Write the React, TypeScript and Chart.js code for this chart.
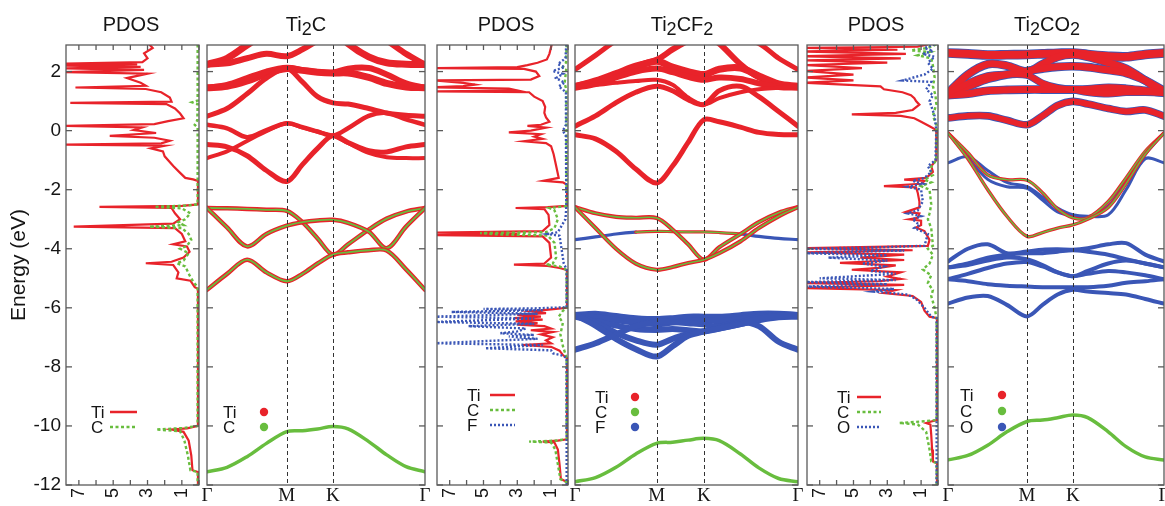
import React, { useEffect, useRef } from 'react';
import { Chart, registerables } from 'chart.js';

Chart.register(...registerables);

// ======================= DATA =======================
const E_MIN = -12;
const E_MAX = 2.9;
const ENERGY_TICKS = [-12, -10, -8, -6, -4, -2, 0, 2];
const DOS_MAX = 7.75;
const DOS_MINOR_TICKS = [0, 1, 2, 3, 4, 5, 6, 7];
const DOS_LABEL_TICKS = [1, 3, 5, 7];
const K_MAX = 1.577;
const K_LABEL_POS = [0, 0.577, 0.911, 1.577];
const K_LABELS = ['Γ', 'M', 'K', 'Γ'];
const K_DASHED = [0.577, 0.911];
// k-path sample points (Γ → M → K → Γ)
const K_PATH = [0, 0.145, 0.29, 0.43, 0.577, 0.69, 0.8, 0.911, 1.02, 1.17, 1.3, 1.44, 1.577];

const TITLES = ['PDOS', 'Ti2C', 'PDOS', 'Ti2CF2', 'PDOS', 'Ti2CO2'];

// ---- Ti2C bands ----
const TI2C_TI_BANDS = [
  [2.24, 2.45, 2.9, 3.3, 3.5, 3.6, 3.6, 3.5, 2.95, 2.5, 2.3, 2.25, 2.24],
  [2.24, 2.28, 2.45, 2.6, 2.52, 2.75, 3.05, 3.3, 3.5, 3.4, 3.05, 2.6, 2.24],
  [1.45, 1.5, 1.68, 1.93, 2.1, 2.04, 1.98, 1.95, 1.95, 1.8, 1.6, 1.48, 1.45],
  [1.45, 1.55, 1.78, 2.0, 2.13, 2.05, 1.99, 1.96, 2.1, 2.12, 1.9, 1.6, 1.45],
  [0.49, 0.75, 1.25, 1.78, 2.1, 1.65, 1.15, 0.94, 0.9, 0.75, 0.6, 0.52, 0.49],
  [0.2, 0.08, -0.22, 0.02, 0.25, 0.12, -0.03, -0.17, 0.08, 0.5, 0.6, 0.38, 0.2],
  [-0.47, -0.55, -0.85, -1.35, -1.72, -1.15, -0.6, -0.17, -0.4, -0.68, -0.72, -0.55, -0.47],
  [-0.93, -0.7, -0.35, -0.02, 0.25, 0.1, -0.04, -0.17, -0.42, -0.75, -0.9, -0.93, -0.93],
];
const TI2C_MIX_BANDS = [
  [-2.62, -2.63, -2.65, -2.68, -2.72, -3.1, -3.65, -4.2, -3.85, -3.35, -2.98, -2.74, -2.62],
  [-2.62, -3.28, -3.92, -3.5, -3.22, -3.1, -3.04, -3.02, -3.12, -3.42, -3.98, -3.25, -2.62],
  [-5.39, -4.85, -4.37, -4.8, -5.1, -4.85, -4.5, -4.2, -4.12, -4.05, -4.06, -4.7, -5.39],
];
const TI2C_C_BAND = [-11.55, -11.4, -11.04, -10.59, -10.19, -10.16, -10.1, -10.02, -10.1, -10.53, -10.98, -11.38, -11.55];

// ---- Ti2CF2 bands ----
const TI2CF2_TI_BANDS = [
  [2.07, 2.55, 3.05, 3.4, 3.6, 3.7, 3.6, 3.4, 3.2, 3.1, 2.95, 2.45, 2.07],
  [1.5, 1.7, 1.95, 2.2, 2.4, 2.75, 3.05, 3.3, 2.95, 2.25, 1.8, 1.55, 1.5],
  [1.5, 1.65, 1.9, 2.15, 2.35, 2.15, 2.0, 1.9, 2.08, 2.12, 1.85, 1.58, 1.5],
  [1.45, 1.58, 1.8, 2.0, 2.1, 1.98, 1.82, 1.72, 1.8, 1.75, 1.6, 1.48, 1.45],
  [1.5, 1.55, 1.62, 1.68, 1.72, 1.55, 1.12, 0.88, 1.1, 1.3, 1.4, 1.45, 1.5],
  [0.15, 0.5, 0.95, 1.3, 1.5, 1.35, 1.05, 0.88, 1.35, 1.5, 1.15, 0.65, 0.15],
  [-0.14, -0.28, -0.7, -1.3, -1.77, -1.2, -0.4, 0.37, 0.3, 0.12, -0.06, -0.13, -0.14],
];
const TI2CF2_MIX_BANDS = [
  [-2.59, -2.8, -2.92, -2.95, -2.96, -3.35, -3.85, -4.37, -3.95, -3.5, -3.1, -2.78, -2.59],
  [-2.59, -3.3, -4.0, -4.5, -4.71, -4.62, -4.48, -4.37, -4.15, -3.75, -3.3, -2.9, -2.59],
];
const TI2CF2_EDGE_BAND = [-3.69, -3.6, -3.5, -3.44, -3.41, -3.42, -3.43, -3.43, -3.45, -3.5, -3.58, -3.65, -3.69];
const TI2CF2_F_BANDS = [
  [-6.24, -6.2, -6.28, -6.35, -6.38, -6.35, -6.3, -6.3, -6.3, -6.25, -6.2, -6.2, -6.24],
  [-6.24, -6.32, -6.42, -6.5, -6.55, -6.5, -6.45, -6.42, -6.45, -6.38, -6.28, -6.22, -6.24],
  [-6.3, -6.45, -6.6, -6.72, -6.75, -6.72, -6.76, -6.8, -6.7, -6.55, -6.42, -6.32, -6.3],
  [-6.24, -6.5, -6.85, -7.1, -7.25, -7.05, -6.88, -6.8, -6.65, -6.48, -6.62, -7.15, -7.42],
  [-7.42, -7.2, -6.9, -6.62, -6.48, -6.48, -6.52, -6.56, -6.65, -6.5, -6.32, -6.25, -6.24],
  [-6.24, -6.6, -7.05, -7.4, -7.65, -7.3, -6.95, -6.8, -6.7, -6.55, -6.38, -6.28, -6.24],
];
const TI2CF2_C_BAND = [-11.89, -11.75, -11.4, -10.95, -10.59, -10.55, -10.48, -10.42, -10.5, -10.95, -11.42, -11.78, -11.89];

// ---- Ti2CO2 bands ----
const TI2CO2_TI_BANDS = [
  [2.63, 2.6, 2.56, 2.57, 2.58, 2.6, 2.62, 2.63, 2.58, 2.52, 2.5, 2.58, 2.63],
  [1.28, 1.9, 2.25, 2.2, 2.0, 2.25, 2.5, 2.58, 2.5, 2.3, 2.1, 1.7, 1.28],
  [1.28, 1.5, 1.75, 1.9, 2.02, 2.1, 2.16, 2.18, 2.15, 2.05, 1.95, 1.7, 1.35],
  [1.2, 1.25, 1.35, 1.38, 1.39, 1.39, 1.39, 1.39, 1.4, 1.45, 1.42, 1.35, 1.28],
  [1.28, 1.6, 1.85, 1.9, 1.88, 1.6, 1.45, 1.39, 1.3, 1.25, 1.3, 1.3, 1.28],
  [0.43, 0.5, 0.5, 0.35, 0.2, 0.5, 0.85, 0.99, 0.9, 0.75, 0.65, 0.7, 0.49],
];
const TI2CO2_MIX_BANDS = [
  [-0.08, -0.75, -1.5, -1.66, -1.68, -2.1, -2.65, -2.95, -2.95, -2.4, -1.6, -0.7, -0.08],
  [-0.08, -0.95, -2.0, -2.9, -3.58, -3.45, -3.3, -3.19, -3.0, -2.6, -1.8, -0.8, -0.08],
];
const TI2CO2_O_THIN_BANDS = [
  [-1.09, -0.88, -1.35, -1.75, -1.9, -2.25, -2.62, -2.85, -2.9, -2.85, -2.0, -0.95, -1.09],
  [-0.08, -0.9, -1.65, -1.9, -1.95, -2.35, -2.75, -2.88, -2.92, -2.55, -1.7, -0.8, -0.08],
];
const TI2CO2_O_BANDS = [
  [-4.43, -4.0, -3.85, -4.15, -4.09, -4.03, -4.02, -4.03, -3.98, -3.85, -3.81, -4.2, -4.43],
  [-4.63, -4.5, -4.3, -4.2, -4.15, -4.15, -4.1, -4.05, -4.1, -4.2, -4.35, -4.5, -4.63],
  [-4.63, -4.55, -4.4, -4.3, -4.35, -4.55, -4.8, -4.93, -4.75, -4.5, -4.4, -4.5, -4.63],
  [-5.03, -4.85, -4.65, -4.5, -4.45, -4.6, -4.8, -4.93, -4.85, -4.75, -4.8, -4.9, -5.03],
  [-5.03, -5.1, -5.2, -5.25, -5.28, -5.3, -5.3, -5.3, -5.3, -5.25, -5.15, -5.1, -5.03],
  [-5.86, -5.65, -5.6, -5.9, -6.29, -5.9, -5.55, -5.39, -5.45, -5.5, -5.55, -5.7, -5.86],
];
const TI2CO2_C_BAND = [-11.15, -11.0, -10.65, -10.2, -9.85, -9.8, -9.72, -9.63, -9.72, -10.2, -10.7, -11.05, -11.15];

// ---- PDOS curves: [energy (eV), states] ----
const TI2C_DOS_TI = [
  [2.92, 2.9], [2.8, 2.7], [2.62, 3.2], [2.45, 3.0], [2.32, 3.3], [2.27, 7.9], [2.24, 3.6], [2.2, 7.9], [2.16, 3.4],
  [2.11, 7.9], [2.06, 3.2], [1.98, 7.9], [1.93, 3.0], [1.78, 4.2], [1.62, 3.4], [1.52, 3.1], [1.46, 7.2], [1.41, 3.1],
  [1.3, 2.2], [1.12, 1.7], [0.98, 1.6], [0.94, 7.5], [0.9, 1.9], [0.75, 1.4], [0.58, 1.1], [0.42, 0.9], [0.32, 1.8],
  [0.22, 2.6], [0.16, 7.9], [0.11, 3.3], [0.02, 3.8], [-0.08, 2.5], [-0.18, 5.2], [-0.24, 2.6], [-0.34, 1.7],
  [-0.43, 2.2], [-0.47, 7.9], [-0.51, 2.0], [-0.6, 2.8], [-0.7, 2.1], [-0.87, 2.0], [-1.2, 1.5], [-1.43, 1.1],
  [-1.6, 0.8], [-1.65, 0.35], [-1.7, 0.06], [-2.5, 0.06], [-2.55, 1.0], [-2.58, 5.8], [-2.62, 1.6], [-2.8, 1.4],
  [-3.0, 1.1], [-3.15, 1.5], [-3.25, 7.3], [-3.3, 1.4], [-3.5, 1.0], [-3.75, 0.8], [-3.85, 1.5], [-3.92, 0.7],
  [-4.1, 0.55], [-4.3, 0.9], [-4.44, 1.6], [-4.49, 3.1], [-4.55, 1.5], [-4.8, 1.2], [-5.0, 1.3], [-5.08, 0.5],
  [-5.3, 0.25], [-5.35, 0.06], [-10.0, 0.06], [-10.08, 0.7], [-10.12, 1.6], [-10.2, 0.9], [-10.5, 0.6],
  [-11.0, 0.45], [-11.5, 0.38], [-11.56, 0.06], [-12, 0.06],
];
const TI2C_DOS_C = [
  [2.92, 0.08], [1.02, 0.08], [0.96, 0.4], [0.9, 0.08], [0.35, 0.1], [0.2, 0.25], [0.1, 0.08], [-2.5, 0.08],
  [-2.54, 0.8], [-2.58, 2.6], [-2.63, 1.0], [-2.8, 0.5], [-3.0, 0.8], [-3.1, 1.2], [-3.2, 0.9], [-3.25, 2.9],
  [-3.3, 1.0], [-3.5, 0.6], [-3.7, 0.45], [-3.9, 0.7], [-4.0, 1.1], [-4.15, 0.6], [-4.4, 0.9], [-4.49, 1.3],
  [-4.6, 0.8], [-4.9, 0.55], [-5.1, 0.35], [-5.3, 0.08], [-10.0, 0.08], [-10.07, 0.9], [-10.12, 2.5],
  [-10.18, 1.1], [-10.5, 0.85], [-11.0, 0.65], [-11.5, 0.5], [-11.56, 0.08], [-12, 0.08],
];
const TI2CF2_DOS_TI = [
  [2.92, 0.96], [2.6, 1.1], [2.41, 1.25], [2.3, 1.8], [2.22, 2.4], [2.15, 3.0], [2.12, 7.9], [2.09, 2.6], [2.0, 1.9],
  [1.85, 1.7], [1.73, 2.2], [1.7, 7.9], [1.62, 6.2], [1.56, 5.5], [1.51, 6.2], [1.47, 7.9], [1.42, 3.5], [1.36, 3.0],
  [1.33, 7.9], [1.3, 2.3], [1.15, 2.0], [1.0, 1.5], [0.8, 1.35], [0.6, 1.4], [0.45, 1.3], [0.3, 1.1], [0.2, 1.6],
  [0.16, 2.4], [0.1, 1.3], [0.0, 2.2], [-0.06, 3.5], [-0.12, 1.6], [-0.2, 2.0], [-0.28, 1.5], [-0.36, 2.6],
  [-0.42, 1.3], [-0.53, 1.0], [-0.8, 0.85], [-1.2, 0.7], [-1.6, 0.55], [-1.7, 1.45], [-1.75, 0.3], [-1.83, 0.06],
  [-2.55, 0.06], [-2.59, 1.2], [-2.62, 3.1], [-2.66, 1.4], [-2.85, 1.15], [-3.2, 1.1], [-3.4, 1.5], [-3.45, 7.9],
  [-3.5, 3.0], [-3.54, 7.9], [-3.58, 1.5], [-3.8, 1.1], [-4.3, 1.0], [-4.5, 1.4], [-4.54, 3.2], [-4.58, 1.2],
  [-4.65, 0.5], [-4.72, 0.06], [-6.0, 0.06], [-6.05, 1.0], [-6.12, 2.2], [-6.18, 1.3], [-6.24, 3.0], [-6.3, 1.6],
  [-6.35, 3.2], [-6.4, 1.5], [-6.46, 3.1], [-6.52, 1.8], [-6.57, 3.0], [-6.62, 1.4], [-6.7, 1.0], [-6.76, 2.2],
  [-6.82, 0.9], [-6.9, 1.6], [-7.0, 0.9], [-7.1, 1.3], [-7.2, 1.0], [-7.26, 2.7], [-7.32, 1.0], [-7.45, 0.5],
  [-7.6, 0.3], [-7.7, 0.06], [-10.45, 0.06], [-10.5, 0.6], [-10.53, 1.5], [-10.56, 0.8], [-10.8, 0.6],
  [-11.3, 0.5], [-11.8, 0.42], [-11.9, 0.06], [-12, 0.06],
];
const TI2CF2_DOS_C = [
  [2.92, 0.08], [2.3, 0.12], [2.15, 0.3], [2.1, 0.1], [1.6, 0.2], [1.4, 0.1], [-2.55, 0.08], [-2.59, 0.6],
  [-2.62, 1.1], [-2.7, 0.8], [-3.0, 0.6], [-3.3, 0.8], [-3.44, 1.3], [-3.47, 5.2], [-3.51, 4.2], [-3.55, 1.2],
  [-3.8, 0.8], [-4.3, 0.7], [-4.5, 0.9], [-4.54, 1.3], [-4.6, 0.5], [-4.72, 0.08], [-6.0, 0.08], [-6.1, 0.3],
  [-6.3, 0.55], [-6.5, 0.3], [-6.9, 0.45], [-7.3, 0.3], [-7.7, 0.08], [-10.45, 0.08], [-10.5, 0.8],
  [-10.53, 2.3], [-10.56, 1.0], [-10.8, 0.75], [-11.3, 0.6], [-11.8, 0.45], [-11.9, 0.08], [-12, 0.08],
];
const TI2CF2_DOS_F = [
  [2.92, 0.1], [2.45, 0.15], [2.25, 0.6], [2.15, 0.2], [2.02, 0.9], [1.92, 0.3], [1.78, 0.7], [1.62, 0.2],
  [1.5, 0.55], [1.3, 0.12], [0.2, 0.12], [0.0, 0.3], [-0.2, 0.12], [-2.6, 0.1], [-3.0, 0.15], [-3.44, 0.6],
  [-3.5, 1.2], [-3.56, 0.5], [-4.5, 0.25], [-4.7, 0.08], [-5.98, 0.08], [-6.02, 2.0], [-6.04, 5.0], [-6.08, 1.5],
  [-6.14, 6.9], [-6.2, 1.8], [-6.3, 7.9], [-6.36, 2.0], [-6.48, 7.9], [-6.54, 2.0], [-6.62, 5.9], [-6.7, 2.5],
  [-6.8, 3.0], [-6.86, 4.0], [-6.92, 2.0], [-6.97, 3.5], [-7.05, 1.8], [-7.2, 7.9], [-7.26, 1.5], [-7.37, 4.9],
  [-7.44, 1.0], [-7.54, 0.9], [-7.62, 0.3], [-7.7, 0.08], [-12, 0.08],
];
const TI2CO2_DOS_TI = [
  [2.92, 0.6], [2.84, 1.2], [2.8, 7.9], [2.74, 2.4], [2.68, 7.9], [2.6, 1.9], [2.52, 7.9], [2.45, 2.2], [2.38, 7.9],
  [2.3, 3.0], [2.22, 7.9], [2.12, 4.5], [2.02, 7.9], [1.9, 5.0], [1.8, 7.9], [1.7, 5.0], [1.62, 7.9], [1.5, 3.4],
  [1.4, 3.2], [1.3, 2.1], [1.2, 1.6], [1.1, 1.4], [1.0, 1.3], [0.88, 1.1], [0.7, 1.5], [0.6, 2.5], [0.55, 5.1],
  [0.5, 2.2], [0.42, 1.4], [0.3, 1.0], [0.15, 0.5], [0.05, 0.2], [-0.05, 0.06], [-1.0, 0.1], [-1.2, 0.4],
  [-1.4, 0.3], [-1.6, 0.7], [-1.66, 2.0], [-1.7, 0.8], [-1.8, 1.0], [-1.88, 3.2], [-1.92, 1.3], [-2.1, 1.2],
  [-2.4, 1.1], [-2.6, 1.1], [-2.75, 1.9], [-2.8, 1.1], [-2.95, 1.2], [-3.0, 1.7], [-3.05, 1.0], [-3.2, 1.0],
  [-3.28, 1.3], [-3.4, 0.8], [-3.7, 0.5], [-3.9, 0.6], [-3.98, 7.9], [-4.05, 1.5], [-4.12, 7.9], [-4.2, 2.0],
  [-4.3, 4.6], [-4.38, 2.0], [-4.48, 5.8], [-4.56, 2.5], [-4.65, 3.5], [-4.71, 5.1], [-4.8, 2.2], [-4.94, 3.0],
  [-5.02, 2.2], [-5.1, 3.5], [-5.16, 7.9], [-5.22, 2.0], [-5.33, 7.9], [-5.4, 2.5], [-5.5, 3.2], [-5.6, 1.5],
  [-5.8, 1.0], [-6.1, 0.8], [-6.3, 0.5], [-6.35, 0.06], [-9.8, 0.06], [-9.85, 0.4], [-9.9, 0.7], [-9.95, 0.45],
  [-10.3, 0.4], [-10.8, 0.35], [-11.2, 0.3], [-11.25, 0.06], [-12, 0.06],
];
const TI2CO2_DOS_C = [
  [2.92, 0.1], [2.8, 0.6], [2.72, 1.6], [2.66, 0.5], [2.55, 1.2], [2.45, 0.4], [2.2, 0.3], [1.8, 0.2], [1.5, 0.3],
  [1.2, 0.15], [0.9, 0.1], [0.5, 0.3], [0.2, 0.1], [-0.05, 0.08], [-1.0, 0.1], [-1.3, 0.5], [-1.5, 0.3],
  [-1.66, 0.8], [-1.75, 0.4], [-1.88, 1.0], [-2.0, 0.5], [-2.5, 0.4], [-2.8, 0.5], [-3.0, 0.6], [-3.3, 0.4],
  [-3.9, 0.3], [-4.0, 0.6], [-4.2, 0.3], [-4.5, 0.5], [-4.7, 0.9], [-4.9, 0.4], [-5.16, 0.6], [-5.4, 0.3],
  [-5.6, 0.4], [-6.0, 0.2], [-6.3, 0.1], [-6.35, 0.08], [-9.8, 0.08], [-9.85, 1.0], [-9.9, 2.3], [-9.95, 1.2],
  [-10.2, 0.7], [-10.8, 0.5], [-11.2, 0.4], [-11.25, 0.08], [-12, 0.08],
];
const TI2CO2_DOS_O = [
  [2.92, 0.2], [2.8, 0.8], [2.7, 0.3], [2.6, 0.9], [2.5, 0.2], [2.3, 0.6], [2.1, 0.3], [1.9, 0.8], [1.7, 2.1],
  [1.65, 0.4], [1.4, 0.7], [1.2, 0.3], [1.0, 0.5], [0.5, 0.2], [0.0, 0.1], [-1.0, 0.15], [-1.2, 0.6], [-1.4, 0.4],
  [-1.6, 0.8], [-1.7, 1.5], [-1.8, 0.9], [-1.9, 1.8], [-2.0, 1.0], [-2.4, 0.9], [-2.7, 1.2], [-2.8, 1.8],
  [-2.9, 1.0], [-3.0, 1.5], [-3.2, 1.1], [-3.3, 1.4], [-3.5, 0.6], [-3.9, 0.8], [-3.95, 3.5], [-4.0, 7.9],
  [-4.06, 2.0], [-4.15, 7.9], [-4.22, 3.0], [-4.3, 6.5], [-4.4, 3.0], [-4.5, 4.5], [-4.6, 3.2], [-4.75, 4.0],
  [-4.85, 2.5], [-5.0, 7.0], [-5.06, 2.5], [-5.13, 7.9], [-5.2, 3.0], [-5.28, 7.9], [-5.36, 2.6], [-5.45, 3.8],
  [-5.55, 1.8], [-5.7, 1.3], [-6.0, 0.8], [-6.3, 0.4], [-6.35, 0.08], [-12, 0.08],
];

// ======================= STYLE / LAYOUT =======================
const PAGE_W = 1165;
const PAGE_H = 506;
const AREA_TOP = 45;
const X_AXIS_H = 21;
const SANS = "'Liberation Sans', Arial, Helvetica, sans-serif";
const SERIF = "'Liberation Serif', 'Times New Roman', serif";
const RED = '#e8232a';
const GREEN = '#68bd3e';
const BLUE = '#3a56b6';
const FRAME = '#5a5a5a';
const TITLE_X = [131, 306, 506, 682, 876, 1047];

const DASH_C = [3, 2.5];
const DASH_O = [2, 2];

function bandDs(e: number[], color: string, width: number, extra: any = {}) {
  return {
    data: K_PATH.map((k, i) => ({ x: k, y: e[i] })),
    borderColor: color,
    borderWidth: width,
    pointRadius: 0,
    tension: 0.33,
    borderCapStyle: 'round',
    borderJoinStyle: 'round',
    fill: false,
    clip: 0,
    ...extra,
  };
}
function mixDs(e: number[], width: number, core: number) {
  return [bandDs(e, RED, width), bandDs(e, GREEN, core)];
}
function dosDs(pts: number[][], color: string, width: number, dash: number[]) {
  return {
    data: pts.map(([e, d]) => ({ x: d, y: e })),
    borderColor: color,
    borderWidth: width,
    borderDash: dash,
    pointRadius: 0,
    tension: 0,
    fill: false,
    clip: 0,
    borderCapStyle: 'butt',
  };
}

const edgeColor = (mid: string, end: string) => (c: any) => (c.p0DataIndex >= 3 && c.p1DataIndex <= 9 ? mid : end);

const LEG_DOS = (third?: string) => {
  const items: any[] = [
    { label: 'Ti', color: RED, dash: [] },
    { label: 'C', color: GREEN, dash: DASH_C },
  ];
  if (third) items.push({ label: third, color: BLUE, dash: DASH_O });
  return items;
};

const TI2CO2_TI_WIDTHS = [8, 7, 7, 7, 6, 6];

const PANELS: any[] = [
  {
    kind: 'dos', left: 66, right: 199, yLabels: true,
    datasets: () => [dosDs(TI2C_DOS_TI, RED, 2.2, []), dosDs(TI2C_DOS_C, GREEN, 2.4, DASH_C)],
    legend: { items: LEG_DOS(), textX: 25, y0: 367, dy: 15, sample: 'line', x0: 44, x1: 71 },
  },
  {
    kind: 'band', left: 207, right: 425,
    datasets: () => [
      ...TI2C_TI_BANDS.map((b, i) => bandDs(b, RED, [7, 6, 7, 6, 5, 4.5, 5, 4][i])),
      ...TI2C_MIX_BANDS.flatMap((b) => mixDs(b, 4.5, 1.8)),
      bandDs(TI2C_C_BAND, GREEN, 3.5),
    ],
    legend: { items: LEG_DOS(), textX: 16, y0: 367, dy: 15, sample: 'dot', x0: 57 },
  },
  {
    kind: 'dos', left: 437, right: 568,
    datasets: () => [
      dosDs(TI2CF2_DOS_TI, RED, 2.2, []),
      dosDs(TI2CF2_DOS_C, GREEN, 2.4, DASH_C),
      dosDs(TI2CF2_DOS_F, BLUE, 2.4, DASH_O),
    ],
    legend: { items: LEG_DOS('F'), textX: 30, y0: 350, dy: 15, sample: 'line', x0: 53, x1: 78 },
  },
  {
    kind: 'band', left: 575, right: 798,
    datasets: () => [
      ...TI2CF2_TI_BANDS.map((b, i) => bandDs(b, RED, [5, 6, 7, 6, 4, 5, 5][i])),
      bandDs(TI2CF2_EDGE_BAND, BLUE, 3.2, { segment: { borderColor: edgeColor(RED, BLUE) } }),
      bandDs(TI2CF2_EDGE_BAND, GREEN, 1.4, { segment: { borderColor: edgeColor(GREEN, 'rgba(0,0,0,0)') } }),
      ...TI2CF2_MIX_BANDS.flatMap((b) => mixDs(b, 4.2, 1.6)),
      ...TI2CF2_F_BANDS.map((b) => bandDs(b, BLUE, 6)),
      bandDs(TI2CF2_C_BAND, GREEN, 3.5),
    ],
    legend: { items: LEG_DOS('F'), textX: 20, y0: 352, dy: 15, sample: 'dot', x0: 60 },
  },
  {
    kind: 'dos', left: 807, right: 938,
    datasets: () => [
      dosDs(TI2CO2_DOS_TI, RED, 2.2, []),
      dosDs(TI2CO2_DOS_C, GREEN, 2.4, DASH_C),
      dosDs(TI2CO2_DOS_O, BLUE, 2.4, DASH_O),
    ],
    legend: { items: LEG_DOS('O'), textX: 30, y0: 352, dy: 15, sample: 'line', x0: 50, x1: 74 },
  },
  {
    kind: 'band', left: 948, right: 1164,
    datasets: () => [
      ...TI2CO2_TI_BANDS.map((b, i) => bandDs(b, BLUE, TI2CO2_TI_WIDTHS[i] + 1.6)),
      ...TI2CO2_TI_BANDS.map((b, i) => bandDs(b, RED, TI2CO2_TI_WIDTHS[i])),
      ...TI2CO2_O_THIN_BANDS.map((b) => bandDs(b, BLUE, 3)),
      ...TI2CO2_MIX_BANDS.flatMap((b) => mixDs(b, 3.4, 1.4)),
      ...TI2CO2_O_BANDS.map((b) => bandDs(b, BLUE, 4)),
      bandDs(TI2CO2_C_BAND, GREEN, 3.5),
    ],
    legend: { items: LEG_DOS('O'), textX: 12, y0: 350, dy: 16, sample: 'dot', x0: 54 },
  },
];

function decor(spec: any) {
  return {
    id: 'decor',
    afterDatasetsDraw(chart: any) {
      const { ctx, chartArea: a, scales } = chart;
      const xs = scales.x;
      const ys = scales.y;
      const seg = (x1: number, y1: number, x2: number, y2: number) => {
        ctx.beginPath();
        ctx.moveTo(x1, y1);
        ctx.lineTo(x2, y2);
        ctx.stroke();
      };
      ctx.save();
      if (spec.kind === 'band') {
        ctx.strokeStyle = '#333';
        ctx.lineWidth = 1;
        ctx.setLineDash([4, 3]);
        for (const k of K_DASHED) {
          const x = Math.round(xs.getPixelForValue(k)) + 0.5;
          seg(x, a.top, x, a.bottom);
        }
        ctx.setLineDash([]);
      }
      ctx.strokeStyle = FRAME;
      ctx.lineWidth = 1.3;
      for (const e of ENERGY_TICKS) {
        const y = ys.getPixelForValue(e);
        seg(a.left, y, a.left + 6, y);
        seg(a.right - 6, y, a.right, y);
      }
      if (spec.kind === 'dos') {
        for (const d of DOS_MINOR_TICKS) {
          const x = xs.getPixelForValue(d);
          seg(x, a.bottom, x, a.bottom - 5);
          seg(x, a.top, x, a.top + 5);
        }
      }
      ctx.strokeRect(a.left, a.top, a.right - a.left, a.bottom - a.top);

      const lg = spec.legend;
      ctx.font = `17px ${SANS}`;
      ctx.textBaseline = 'middle';
      ctx.textAlign = 'left';
      lg.items.forEach((it: any, i: number) => {
        const y = a.top + lg.y0 + i * lg.dy;
        ctx.fillStyle = '#151515';
        ctx.fillText(it.label, a.left + lg.textX, y + 1);
        if (lg.sample === 'dot') {
          ctx.beginPath();
          ctx.arc(a.left + lg.x0, y, 4.2, 0, Math.PI * 2);
          ctx.fillStyle = it.color;
          ctx.fill();
        } else {
          ctx.strokeStyle = it.color;
          ctx.lineWidth = 2.5;
          ctx.setLineDash(it.dash);
          seg(a.left + lg.x0, y, a.left + lg.x1, y);
          ctx.setLineDash([]);
        }
      });
      ctx.restore();
    },
  };
}

function createChart(canvas: HTMLCanvasElement, spec: any) {
  const raw = spec.datasets();
  const datasets = raw.map((d: any, i: number) => ({ ...d, order: raw.length - i }));
  const isDos = spec.kind === 'dos';
  const fixX = (s: any) => {
    s.height = X_AXIS_H;
    s.paddingLeft = 0;
    s.paddingRight = 0;
  };
  const xScale: any = isDos
    ? {
        type: 'linear', min: 0, max: DOS_MAX, reverse: true,
        grid: { display: false, drawTicks: false }, border: { display: false },
        afterBuildTicks: (s: any) => { s.ticks = DOS_LABEL_TICKS.map((v) => ({ value: v })); },
        ticks: {
          autoSkip: false, minRotation: 90, maxRotation: 90, padding: 3, color: '#151515',
          font: { family: SANS, size: 18 }, callback: (v: any) => String(v),
        },
        afterFit: fixX,
      }
    : {
        type: 'linear', min: 0, max: K_MAX,
        grid: { display: false, drawTicks: false }, border: { display: false },
        afterBuildTicks: (s: any) => { s.ticks = K_LABEL_POS.map((v) => ({ value: v })); },
        ticks: {
          autoSkip: false, minRotation: 0, maxRotation: 0, padding: 0, color: '#151515',
          font: { family: SERIF, size: 19 }, callback: (_v: any, i: number) => K_LABELS[i],
        },
        afterFit: fixX,
      };
  const showY = !!spec.yLabels;
  const yScale: any = {
    type: 'linear', min: E_MIN, max: E_MAX, display: showY,
    grid: { display: false, drawTicks: false }, border: { display: false },
    afterBuildTicks: (s: any) => { s.ticks = ENERGY_TICKS.map((v) => ({ value: v })); },
    ticks: { padding: 5, color: '#151515', font: { family: SANS, size: 19 }, callback: (v: any) => String(v) },
    title: {
      display: showY, text: 'Energy (eV)', color: '#151515',
      font: { family: SANS, size: 21 }, padding: { top: 7, bottom: 0 },
    },
    afterFit: (s: any) => {
      s.width = showY ? spec.left : 0;
      s.paddingTop = 0;
      s.paddingBottom = 0;
    },
  };
  return new Chart(canvas, {
    type: 'line',
    data: { datasets },
    options: {
      animation: false,
      responsive: false,
      maintainAspectRatio: false,
      devicePixelRatio: 1,
      events: [],
      layout: {
        padding: { left: showY ? 0 : spec.left, right: PAGE_W - spec.right, top: AREA_TOP, bottom: 0 },
      },
      plugins: { legend: { display: false }, tooltip: { enabled: false }, title: { display: false } },
      scales: { x: xScale, y: yScale },
    } as any,
    plugins: [decor(spec)],
  } as any);
}

function PanelCanvas({ spec }: { spec: any }) {
  const ref = useRef<HTMLCanvasElement | null>(null);
  useEffect(() => {
    const chart = createChart(ref.current as HTMLCanvasElement, spec);
    return () => chart.destroy();
  }, [spec]);
  return (
    <canvas
      ref={ref}
      width={PAGE_W}
      height={PAGE_H}
      style={{ position: 'absolute', left: 0, top: 0, width: PAGE_W, height: PAGE_H }}
    />
  );
}

function Title({ text, x }: { text: string; x: number }) {
  const parts = text.split('').map((ch, i) =>
    /\d/.test(ch) ? (
      <span key={i} style={{ fontSize: 18, position: 'relative', top: 4 }}>{ch}</span>
    ) : (
      <span key={i}>{ch}</span>
    )
  );
  return (
    <div
      style={{
        position: 'absolute', left: x, top: 13, transform: 'translateX(-50%)',
        font: `20px ${SANS}`, lineHeight: '23px', color: '#151515', whiteSpace: 'nowrap',
      }}
    >
      {parts}
    </div>
  );
}

export default function App() {
  return (
    <div
      style={{
        position: 'fixed', left: 0, top: 0, width: PAGE_W, height: PAGE_H,
        background: '#ffffff', overflow: 'hidden',
      }}
    >
      {PANELS.map((p, i) => (
        <PanelCanvas key={i} spec={p} />
      ))}
      {TITLES.map((t, i) => (
        <Title key={i} text={t} x={TITLE_X[i]} />
      ))}
    </div>
  );
}
